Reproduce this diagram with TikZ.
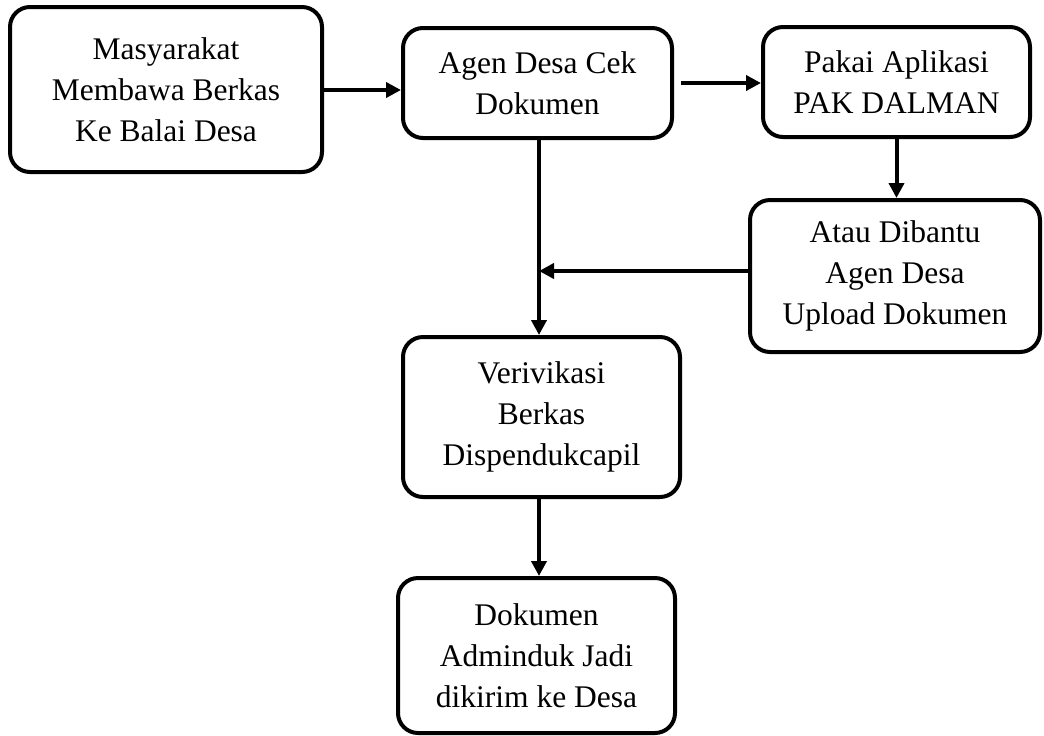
\documentclass[tikz,border=0pt]{standalone}
\usepackage{fontspec}
\setmainfont{Liberation Serif}
\usetikzlibrary{arrows.meta}
\tikzset{
  box/.style={draw=black, line width=2pt, rounded corners=10pt, fill=white, inner sep=0pt, align=center,
    font=\fontsize{15.75pt}{20.5pt}\selectfont},
  arr/.style={line width=2pt, -{Triangle[length=7.5pt,width=7.5pt]}}
}
\begin{document}
\begin{tikzpicture}[x=0.5pt,y=-0.5pt]
\useasboundingbox (0,0) rectangle (1044,735);
\node[box, minimum width=156pt, minimum height=82.5pt] (b1) at (166,89.5) {Masyarakat\\Membawa Berkas\\Ke Balai Desa};
\node[box, minimum width=134.5pt, minimum height=55pt] (b2) at (537.5,83) {Agen Desa Cek\\Dokumen};
\node[box, minimum width=133.5pt, minimum height=55pt] (b3) at (896.5,82) {Pakai Aplikasi\\PAK DALMAN};
\node[box, minimum width=145pt, minimum height=76pt] (b4) at (895,276) {Atau Dibantu\\Agen Desa\\Upload Dokumen};
\node[box, minimum width=138.5pt, minimum height=80pt] (b5) at (541.5,417) {Verivikasi\\Berkas\\Dispendukcapil};
\node[box, minimum width=138.5pt, minimum height=77.5pt] (b6) at (536.5,655.5) {Dokumen\\Adminduk Jadi\\dikirim ke Desa};
\coordinate (vx) at (539,0);
\coordinate (j) at (539,271);
\coordinate (h1) at (0,90);
\draw[arr] (b1.east |- h1) -- (b2.west |- h1);
\draw[arr] ([xshift=3.5pt]b2.east) -- (b3.west |- b2.east);
\draw[arr] (b3.south) -- (b4.north -| b3.south);
\draw[arr] (b2.south -| vx) -- (b5.north -| vx);
\draw[arr] (b4.west |- j) -- (j);
\draw[arr] (b5.south -| vx) -- (b6.north -| vx);
\end{tikzpicture}
\end{document}
